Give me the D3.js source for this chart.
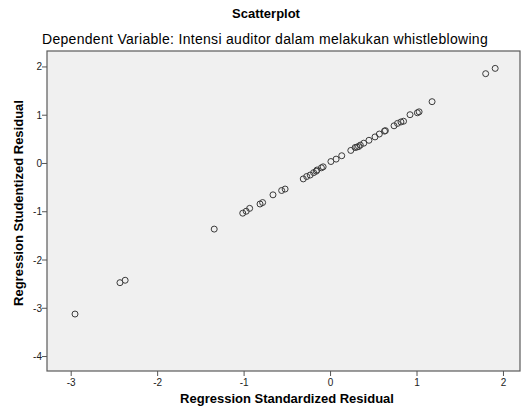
<!DOCTYPE html>
<html>
<head>
<meta charset="utf-8">
<script src="https://cdn.jsdelivr.net/npm/d3@7"></script>
<style>
  body { margin: 0; background: #fff; }
  text { font-family: "Liberation Sans", Arial, sans-serif; }
</style>
</head>
<body>
<script>
// standardized residual (x) vs studentized residual (y)
const stdResid = [-2.95, -2.43, -2.37, -1.34, -1.01, -0.97, -0.93, -0.81, -0.78, -0.66,
  -0.56, -0.52, -0.31, -0.27, -0.23, -0.19, -0.16, -0.15, -0.10, -0.08,
  0.01, 0.07, 0.135, 0.24, 0.29, 0.31, 0.33, 0.35, 0.39, 0.45,
  0.52, 0.57, 0.63, 0.64, 0.74, 0.78, 0.82, 0.85, 0.925, 1.01,
  1.03, 1.18, 1.80, 1.91];
const studResid = [-3.13, -2.48, -2.43, -1.37, -1.04, -1.00, -0.94, -0.85, -0.82, -0.66,
  -0.57, -0.54, -0.33, -0.28, -0.25, -0.20, -0.17, -0.145, -0.10, -0.08,
  0.03, 0.08, 0.15, 0.26, 0.32, 0.33, 0.34, 0.37, 0.41, 0.47,
  0.54, 0.60, 0.66, 0.67, 0.77, 0.82, 0.85, 0.865, 1.00, 1.04,
  1.06, 1.27, 1.85, 1.96];
const xTicks = [-3, -2, -1, 0, 1, 2];
const yTicks = [-4, -3, -2, -1, 0, 1, 2];

const W = 525, H = 415;
const margin = {left: 47, right: 5, top: 51, bottom: 44};

const svg = d3.select('body').append('svg')
  .attr('width', W)
  .attr('height', H);

const x = d3.scaleLinear().domain([-3.274, 2.197]).range([margin.left, W - margin.right]);
const y = d3.scaleLinear().domain([-4.31, 2.32]).range([H - margin.bottom, margin.top]);

// plot background
svg.append('rect')
  .attr('x', margin.left)
  .attr('y', margin.top)
  .attr('width', W - margin.left - margin.right)
  .attr('height', H - margin.top - margin.bottom)
  .attr('fill', '#f0f0f0')
  .attr('stroke', '#5a5a5a')
  .attr('stroke-width', 1.2);

// axes (plain hyphen for negatives, like the original)
const fmt = d => String(d);
const xAxis = svg.append('g')
  .attr('transform', `translate(0,${H - margin.bottom})`)
  .call(d3.axisBottom(x).tickValues(xTicks).tickSize(5).tickSizeOuter(0).tickFormat(fmt));
const yAxis = svg.append('g')
  .attr('transform', `translate(${margin.left},0)`)
  .call(d3.axisLeft(y).tickValues(yTicks).tickSize(5).tickSizeOuter(0).tickFormat(fmt));

[xAxis, yAxis].forEach(a => {
  a.select('.domain').remove();
  a.selectAll('line').attr('stroke', '#555');
  a.selectAll('text').attr('fill', '#222').style('font-size', '10px')
    .style('font-family', '"Liberation Sans", Arial, sans-serif');
});
yAxis.selectAll('text').attr('x', -5).attr('dy', '0.35em');
xAxis.selectAll('text').attr('y', 8);

// points
svg.append('g')
  .selectAll('circle')
  .data(stdResid)
  .enter()
  .append('circle')
  .attr('cx', d => x(d))
  .attr('cy', (d, i) => y(studResid[i]))
  .attr('r', 3)
  .attr('fill', 'none')
  .attr('stroke', '#3a3a3a')
  .attr('stroke-width', 1);

// titles
svg.append('text')
  .attr('x', 266).attr('y', 17.5)
  .attr('text-anchor', 'middle')
  .style('font-size', '13px').style('font-weight', 'bold')
  .text('Scatterplot');

svg.append('text')
  .attr('x', 265).attr('y', 43.5)
  .attr('text-anchor', 'middle')
  .style('font-size', '14px')
  .style('letter-spacing', '0.3px')
  .text('Dependent Variable: Intensi auditor dalam melakukan whistleblowing');

svg.append('text')
  .attr('x', 287).attr('y', 403)
  .attr('text-anchor', 'middle')
  .style('font-size', '13px').style('font-weight', 'bold')
  .text('Regression Standardized Residual');

svg.append('text')
  .attr('transform', 'translate(22.5,203) rotate(-90)')
  .attr('text-anchor', 'middle')
  .style('font-size', '13px').style('font-weight', 'bold')
  .text('Regression Studentized Residual');
</script>
</body>
</html>
